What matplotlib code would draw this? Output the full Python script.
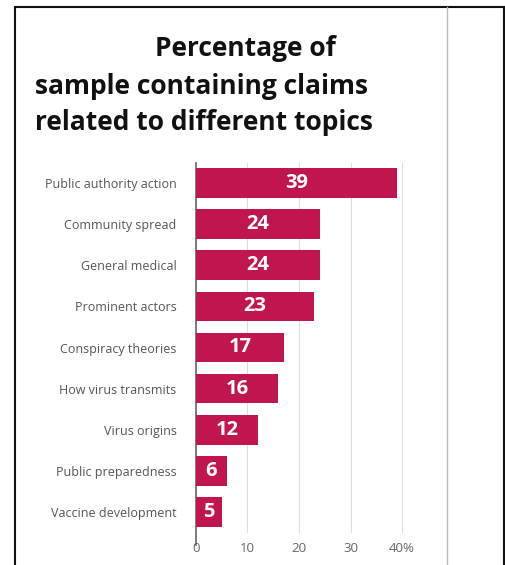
import matplotlib.pyplot as plt
from matplotlib.lines import Line2D

topics = ["Public authority action", "Community spread", "General medical",
          "Prominent actors", "Conspiracy theories", "How virus transmits",
          "Virus origins", "Public preparedness", "Vaccine development"]
shares = [39, 24, 24, 23, 17, 16, 12, 6, 5]
tick_vals = [0, 10, 20, 30, 40]
tick_text = ["0", "10", "20", "30", "40%"]

W, H = 506, 565
fig = plt.figure(figsize=(W / 100, H / 100), dpi=100)
fig.patch.set_facecolor("white")

# axes placed in pixel terms
x0, x1 = 196, 196 + 42 * 5.15
y_top, y_bot = 162.5, 532.5
ax = fig.add_axes([x0 / W, 1 - y_bot / H, (x1 - x0) / W, (y_bot - y_top) / H])

ypos = list(range(len(topics)))
bars = ax.barh(ypos, shares, height=0.72, color="#C0154F", zorder=3)
for y, v in zip(ypos, shares):
    ax.text(v / 2, y, str(v), ha="center", va="center", color="white",
            fontsize=14.5, fontweight="bold", family="Open Sans", zorder=4)

ax.set_ylim(len(topics) - 0.5, -0.5)
ax.set_xlim(0, 42)
ax.set_yticks(ypos)
ax.set_yticklabels(topics, fontsize=9, color="#555555", family="Open Sans")
ax.set_xticks(tick_vals)
ax.set_xticklabels(tick_text, fontsize=9.5, color="#666666", family="Open Sans")
ax.tick_params(axis="y", length=0, pad=14)
ax.tick_params(axis="x", length=0, pad=7)
ax.grid(axis="x", color="#DDDDDD", linewidth=0.8, zorder=0)
for s in ["top", "right", "bottom"]:
    ax.spines[s].set_visible(False)
ax.spines["left"].set_color("#666666")
ax.spines["left"].set_linewidth(1.2)
ax.spines["left"].set_bounds(len(topics) - 0.2, -0.5)

# title
title_kw = dict(fontsize=19, fontweight="bold", family="Open Sans", color="#111111", va="center")
fig.text(245 / W, 1 - 48 / H, "Percentage of", ha="center", **title_kw)
fig.text(35 / W, 1 - 87 / H, "sample containing claims", ha="left", **title_kw)
fig.text(35 / W, 1 - 122 / H, "related to different topics", ha="left", **title_kw)

# frame around the slide
def pline(xs, ys, color, lw):
    fig.add_artist(Line2D([x / W for x in xs], [1 - y / H for y in ys],
                          color=color, linewidth=lw, transform=fig.transFigure))

pline([15, 15], [7, H], "#111111", 1.5)
pline([15, 504], [7, 7], "#111111", 1.5)
pline([504, 504], [7, H], "#111111", 1.5)
pline([447, 447], [7, H], "#BBBBBB", 1.0)

fig.savefig("out.png", dpi=100)
